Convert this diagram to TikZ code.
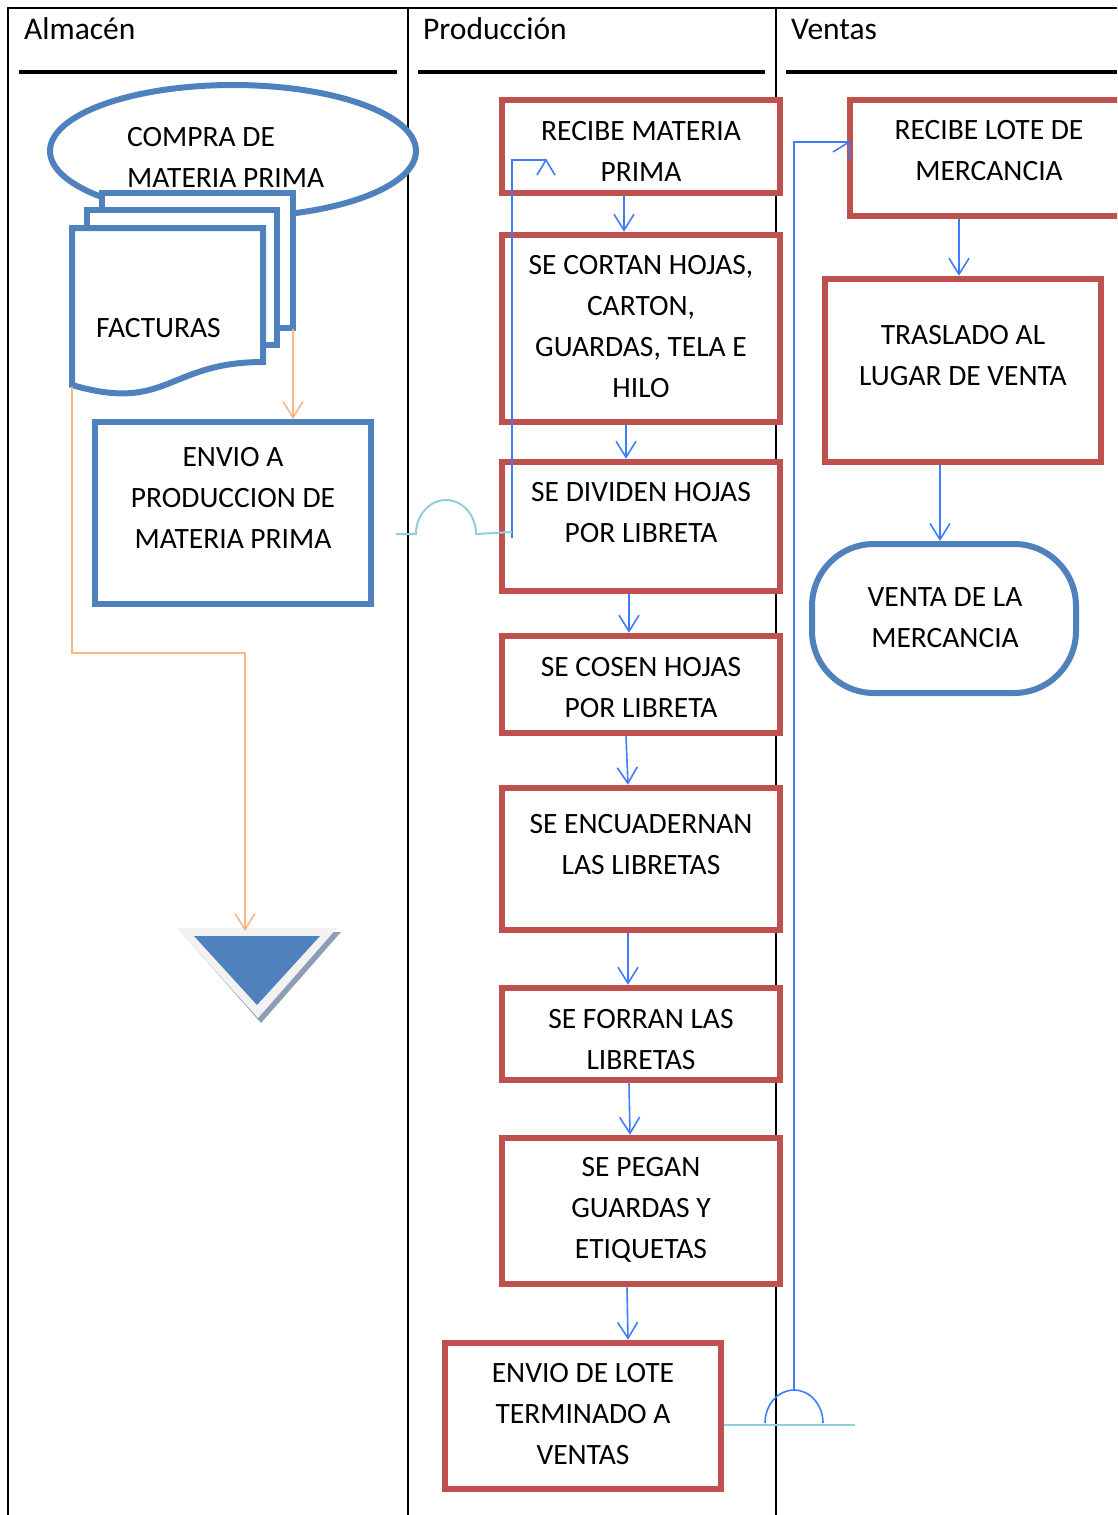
\documentclass[tikz,border=0pt]{standalone}
\usepackage{fontspec}
\setmainfont{Carlito}
\usetikzlibrary{arrows.meta}
\definecolor{boxred}{HTML}{C0504D}
\definecolor{boxblue}{HTML}{4F81BD}
\definecolor{connblue}{HTML}{3D7DFA}
\definecolor{lblue}{HTML}{92CDDC}
\definecolor{conorange}{HTML}{F9B784}
\definecolor{trigray}{HTML}{F2F2F2}
\definecolor{trishadow}{HTML}{8C9DB5}
\begin{document}
\begin{tikzpicture}[x=1pt,y=-1pt,
  redbox/.style={draw=boxred,line width=6.5pt,fill=white,rectangle,inner sep=0pt},
  bluebox/.style={draw=boxblue,line width=6pt,fill=white,rectangle,inner sep=0pt},
  docsty/.style={draw=boxblue,line width=6pt,fill=white},
  txt/.style={font=\fontsize{29.5}{41}\selectfont,align=center,inner sep=0pt},
  hdr/.style={font=\fontsize{31.5}{36}\selectfont,inner sep=0pt,anchor=base west},
  frame/.style={line width=2pt,black},
  hline/.style={line width=4pt,black},
  conn/.style={draw=connblue,line width=1.6pt},
  arr/.style={conn,-{Straight Barb[length=16pt,width=20pt]}},
  oarr/.style={draw=conorange,line width=1.6pt,-{Straight Barb[length=16pt,width=20pt]}},
  lbl/.style={draw=lblue,line width=2pt}
]
\useasboundingbox (0,0) rectangle (1117,1515);
\clip (0,0) rectangle (1117,1515);

% frame and lanes
\draw[frame] (8,1515) -- (8,8) -- (1117,8);
\draw[frame] (408,8) -- (408,1515);
\draw[frame] (776,8) -- (776,1515);
\draw[hline] (19,72) -- (397,72);
\draw[hline] (418,72) -- (765,72);
\draw[hline] (786,72) -- (1117,72);
\node[hdr] (hA) at (24,39.5) {Almacén};
\node[hdr] (hP) at (423,39.5) {Producción};
\node[hdr] (hV) at (791,39.5) {Ventas};

% Almacen
\draw[boxblue,line width=6pt,fill=white] (233,151) ellipse [x radius=183,y radius=66];
\node[txt,align=left,anchor=west] (tCompra) at (127,157) {COMPRA DE\\MATERIA PRIMA};
\draw[docsty] (102,193) rectangle (293,328);
\draw[docsty] (87,210) rectangle (277,345);
\draw[docsty] (72,228) -- (263,228) -- (263,362) .. controls (167.5,362) and (167.5,413) .. (72,385) -- cycle;
\node[txt,anchor=west] (tFact) at (96,328) {FACTURAS};
\coordinate (docback) at (293,329);
\coordinate (docfront) at (72,387);

\node[bluebox,minimum width=276pt,minimum height=182pt] (envA) at (233,513) {};
\node[txt] (tEnvA) at (233,498) {ENVIO A\\PRODUCCION DE\\MATERIA PRIMA};

\fill[trishadow] (181,932) -- (341,932) -- (261,1023) -- cycle;
\fill[trigray] (177,928) -- (337,928) -- (258,1018) -- cycle;
\fill[boxblue] (194,936) -- (320,936) -- (257,1005) -- cycle;
\coordinate (tritop) at (245,931);

\draw[oarr] (docback) -- (docback |- envA.north);
\draw[oarr] (docfront) -- (72,653) -- (245,653) -- (tritop);

% Produccion
\node[redbox,minimum width=278pt,minimum height=93pt] (b1) at (641,146.5) {};
\node[txt] (t1) at (641,151.5) {RECIBE MATERIA\\PRIMA};
\node[redbox,minimum width=278pt,minimum height=187pt] (b2) at (641,328.5) {};
\node[txt] (t2) at (641,327) {SE CORTAN HOJAS,\\CARTON,\\GUARDAS, TELA E\\HILO};
\node[redbox,minimum width=278pt,minimum height=129pt] (b3) at (641,526.5) {};
\node[txt] (t3) at (641,512.5) {SE DIVIDEN HOJAS\\POR LIBRETA};
\node[redbox,minimum width=278pt,minimum height=97pt] (b4) at (641,684.5) {};
\node[txt] (t4) at (641,687.5) {SE COSEN HOJAS\\POR LIBRETA};
\node[redbox,minimum width=278pt,minimum height=142pt] (b5) at (641,859) {};
\node[txt] (t5) at (641,845) {SE ENCUADERNAN\\LAS LIBRETAS};
\node[redbox,minimum width=278pt,minimum height=92pt] (b6) at (641,1034) {};
\node[txt] (t6) at (641,1039.5) {SE FORRAN LAS\\LIBRETAS};
\node[redbox,minimum width=278pt,minimum height=146pt] (b7) at (641,1211) {};
\node[txt] (t7) at (641,1209.5) {SE PEGAN\\GUARDAS Y\\ETIQUETAS};
\node[redbox,minimum width=276pt,minimum height=146pt] (b8) at (583,1416) {};
\node[txt] (t8) at (583,1414) {ENVIO DE LOTE\\TERMINADO A\\VENTAS};

\draw[arr] ([xshift=-17pt]b1.south) -- ([xshift=-17pt]b2.north);
\draw[arr] ([xshift=-15pt]b2.south) -- ([xshift=-15pt]b3.north);
\draw[arr] ([xshift=-12pt]b3.south) -- ([xshift=-12pt]b4.north);
\draw[arr] ([xshift=-15pt]b4.south) -- ([xshift=-13pt]b5.north);
\draw[arr] ([xshift=-13pt]b5.south) -- ([xshift=-13pt]b6.north);
\draw[arr] ([xshift=-12pt]b6.south) -- ([xshift=-11pt]b7.north);
\draw[arr] ([xshift=-14pt]b7.south) -- ([xshift=45pt]b8.north);

% feedback connector
\coordinate (fb) at (512,538);
\coordinate (fbend) at (546,160);
\draw[conn] (fb) -- (fb |- fbend) -- (fbend);
\draw[conn] (537,175) -- (fbend) -- (555,175);
\draw[lbl] (396,534) -- (416,534) arc[start angle=180,end angle=360,x radius=30,y radius=34] -- (fb |- 0,532);

% Ventas
\node[redbox,minimum width=280pt,minimum height=116pt] (v1) at (990,158) {};
\node[txt] (tv1) at (989,150.5) {RECIBE LOTE DE\\MERCANCIA};
\node[redbox,minimum width=276pt,minimum height=183pt] (v2) at (963,370.5) {};
\node[txt] (tv2) at (963,356) {TRASLADO AL\\LUGAR DE VENTA};
\node[bluebox,rounded corners=62pt,minimum width=264pt,minimum height=149pt] (v3) at (944,618.5) {};
\node[txt] (tv3) at (945,618) {VENTA DE LA\\MERCANCIA};

\draw[arr] ([xshift=-31pt]v1.south) -- ([xshift=-4pt]v2.north);
\draw[arr] ([xshift=-23pt]v2.south) -- ([xshift=-4pt]v3.north);

% connector from envio de lote to ventas
\coordinate (hopR) at (855,1425);
\coordinate (vtop) at (849,142);
\draw[lbl] (b8.east |- hopR) -- (hopR);
\draw[conn] (765,1423) arc[start angle=180,end angle=360,x radius=29,y radius=33];
\draw[conn] (794,1390) -- (794,142) -- (vtop);
\draw[conn] (833,152) -- (vtop) -- (850,160);
\end{tikzpicture}
\end{document}
